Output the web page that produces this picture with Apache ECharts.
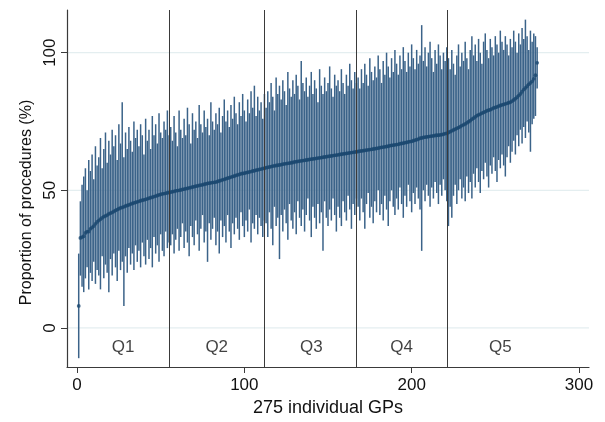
<!DOCTYPE html>
<html>
<head>
<meta charset="utf-8">
<script src="https://cdn.jsdelivr.net/npm/echarts@6/dist/echarts.min.js"></script>
<style>html,body{margin:0;padding:0;background:#fff}#c{width:605px;height:422px}</style>
</head>
<body>
<div id="c"></div>
<script>
// Point estimates (%) for 275 GPs, sorted ascending
const estimate = [
 8.0,32.7,33.0,33.3,34.5,35.0,35.0,36.0,36.5,37.0,37.8,38.5,39.0,39.5,40.0,40.4,40.7,41.0,41.4,41.7,
 42.0,42.3,42.7,43.0,43.3,43.6,43.8,44.0,44.3,44.5,44.7,45.0,45.2,45.4,45.6,45.8,46.0,46.2,46.4,46.5,
 46.7,46.9,47.1,47.3,47.5,47.7,47.9,48.1,48.3,48.5,48.7,48.8,48.9,49.1,49.2,
 49.3,49.5,49.6,49.8,49.9,50.0,50.1,50.3,50.4,50.6,50.7,50.9,51.0,51.2,51.3,
 51.5,51.6,51.8,51.9,52.0,52.2,52.3,52.5,52.6,52.7,52.8,52.9,53.0,53.2,53.4,53.6,53.8,54.0,54.2,54.4,
 54.6,54.8,55.0,55.2,55.4,55.6,55.8,56.0,56.1,56.2,56.4,56.5,56.7,56.8,57.0,57.1,57.3,57.4,57.6,57.7,
 57.9,58.0,
 58.2,58.3,58.5,58.6,58.8,58.9,59.0,59.1,59.2,59.3,59.5,59.6,59.7,59.8,59.9,60.0,60.1,60.3,
 60.4,60.5,60.6,60.7,60.8,60.9,61.0,61.1,61.2,61.3,61.4,61.5,61.6,61.7,61.8,61.9,62.0,62.1,62.2,62.3,
 62.4,62.5,62.6,62.7,62.8,62.9,63.0,63.1,63.2,63.3,63.4,63.5,63.6,63.7,63.8,63.9,64.0,
 64.1,64.2,64.3,64.4,64.5,64.6,64.7,64.8,64.9,65.0,65.1,65.2,65.3,65.5,65.6,65.7,65.8,65.9,66.0,66.2,
 66.3,66.4,66.5,66.6,66.7,66.9,67.0,67.1,67.3,67.4,67.6,67.7,67.8,68.0,68.2,68.4,68.6,68.9,69.0,69.2,
 69.3,69.4,69.5,69.6,69.7,69.8,69.9,70.0,70.0,70.1,70.2,70.4,70.6,70.7,
 71.0,71.3,71.6,71.9,72.2,72.5,72.8,73.1,73.5,73.8,74.1,74.5,74.9,75.3,75.8,76.2,76.7,77.1,77.4,
 77.7,78.0,78.3,78.6,78.9,79.1,79.3,79.6,79.9,80.1,80.3,80.6,80.8,81.0,81.2,81.4,81.6,81.8,82.0,82.4,
 82.8,83.3,83.8,84.4,85.0,85.8,86.6,87.2,87.8,88.5,89.0,89.6,90.5,91.8,96.3
];
// Upper confidence limits (%)
const upper = [
 27,46,52,55,58,50,61,57,63,54,66,59,62,69,58,65,71,60,68,63,72,66,70,61,74,67,82,62,71,65,
 73,68,64,75,69,72,66,74,70,63,76,68,72,65,77,70,74,67,78,71,69,75,72,79,70,
 73,68,77,71,66,79,72,69,76,70,80,74,67,78,72,75,69,81,74,71,79,73,76,70,82,
 75,72,78,74,80,71,77,83,75,79,73,81,76,84,78,74,82,77,85,79,75,83,78,86,80,88,77,84,79,82,76,85,
 80,86,82,89,84,79,91,85,88,83,90,86,81,93,87,84,90,85,92,88,83,97,89,86,91,84,88,93,
 85,90,87,82,94,88,85,91,86,89,95,87,84,92,88,90,86,94,89,85,92,88,96,90,87,93,89,
 91,87,94,89,96,92,88,98,93,90,95,91,99,94,89,97,92,100,95,91,98,93,101,
 96,92,99,94,102,97,93,100,95,103,98,94,101,96,99,110,97,102,95,100,104,98,93,101,96,103,99,94,100,97,102,
 98,94,101,96,92,99,103,95,100,97,104,98,94,101,106,99,103,97,105,100,96,104,107,101,98,105,102,99,106,
 103,100,108,104,101,106,103,99,105,102,108,104,100,107,103,109,105,112,106,101,108,104,107,106,102
];
// Lower confidence limits (%)
const lower = [
 -11,19,15,13,18,22,14,20,17,24,16,21,19,14,26,18,23,20,13,25,19,27,22,17,28,21,24,8,26,20,
 29,23,27,21,30,24,28,22,31,26,23,32,25,29,22,33,27,30,24,34,28,26,35,29,31,
 30,34,27,32,36,28,33,38,29,35,31,26,37,33,30,39,34,28,36,41,31,35,24,38,32,
 36,40,30,35,27,39,33,37,31,41,35,29,38,34,40,36,32,42,37,33,39,35,43,31,38,36,41,34,40,37,33,39,
 38,33,42,36,30,44,37,40,25,41,35,43,38,32,45,39,36,42,34,46,40,37,43,35,41,47,39,33,
 44,40,36,45,38,42,28,46,40,37,43,39,47,41,35,44,40,37,46,42,39,48,43,36,45,41,47,
 44,39,47,42,36,45,49,40,44,38,46,42,50,41,45,39,48,43,37,46,50,44,41,
 47,43,51,45,40,48,44,52,46,42,49,45,51,47,43,28,50,46,52,48,44,51,47,53,49,45,52,48,54,50,46,
 37,44,40,48,52,45,50,54,47,51,46,55,49,53,47,56,51,58,53,49,57,54,60,55,51,59,56,62,57,
 53,61,58,63,59,55,62,66,60,64,68,63,70,66,72,67,73,69,75,71,64,74,76,77,87
];
// Quintile boundaries and labels
const quintileCuts = [55, 112, 167, 221];
const quintileLabels = ['Q1', 'Q2', 'Q3', 'Q4', 'Q5'];
const quintileLabelX = [27.5, 83.5, 140, 194, 253];
const quintileLabelY = -7;
const xTicks = [0, 100, 200, 300];
const yTicks = [0, 50, 100];

const gpIndex = estimate.map((_, i) => i + 1);
const barData = gpIndex.map((g, i) => [g, lower[i], upper[i]]);
const pointData = gpIndex.map((g, i) => [g, estimate[i]]);
const qData = quintileLabels.map((q, i) => [quintileLabelX[i], quintileLabelY, q]);

const FONT = '"Liberation Sans", Arial, sans-serif';
const chart = echarts.init(document.getElementById('c'), null, {renderer: 'canvas'});
chart.setOption({
  animation: false,
  backgroundColor: '#ffffff',
  grid: {left: 67, right: 16, top: 10, bottom: 55, containLabel: false},
  xAxis: {
    type: 'value', min: -6, max: 306,
    name: '275 individual GPs', nameLocation: 'middle', nameGap: 32,
    nameTextStyle: {fontFamily: FONT, fontSize: 18, color: '#111'},
    axisLine: {show: true, onZero: false, lineStyle: {color: '#3a3a3a', width: 1.2}},
    axisTick: {show: true, length: 6, customValues: xTicks, lineStyle: {color: '#3a3a3a'}},
    axisLabel: {customValues: xTicks, margin: 10, fontFamily: FONT, fontSize: 17, color: '#111'},
    splitLine: {show: false}
  },
  yAxis: {
    type: 'value', min: -14.2, max: 115.5,
    name: 'Proportion of procedures (%)', nameLocation: 'middle', nameGap: 24,
    nameTextStyle: {fontFamily: FONT, fontSize: 16, color: '#111', padding: [0, 28, 0, 0]},
    axisLine: {show: true, onZero: false, lineStyle: {color: '#3a3a3a', width: 1.2}},
    axisTick: {show: true, length: 6, customValues: yTicks, lineStyle: {color: '#3a3a3a'}},
    axisLabel: {customValues: yTicks, rotate: 90, margin: 8, fontFamily: FONT, fontSize: 17, color: '#111'},
    splitLine: {show: false}
  },
  series: [
    {
      type: 'custom', z: 0, silent: true,
      data: yTicks.map(v => [v]),
      encode: {y: 0},
      renderItem: function (params, api) {
        const cs = params.coordSys;
        const y = api.coord([0, api.value(0)])[1];
        return {type: 'line', shape: {x1: cs.x, y1: y, x2: cs.x + cs.width, y2: y},
                style: {stroke: '#e4eef0', lineWidth: 1.2}};
      }
    },
    {
      type: 'custom', z: 2, silent: true,
      data: barData,
      renderItem: function (params, api) {
        const p1 = api.coord([api.value(0), api.value(1)]);
        const p2 = api.coord([api.value(0), api.value(2)]);
        return {type: 'line', shape: {x1: p1[0], y1: p1[1], x2: p2[0], y2: p2[1]},
                style: {stroke: '#3b6389', lineWidth: 1.5}};
      }
    },
    {
      type: 'scatter', z: 3, silent: true, data: pointData,
      symbol: 'circle', symbolSize: 3.8,
      itemStyle: {color: '#1a476f'}
    },
    {
      type: 'scatter', z: 4, silent: true, data: qData,
      symbolSize: 0,
      label: {show: true, position: 'inside', formatter: p => p.value[2],
              fontFamily: FONT, fontSize: 17, color: '#111'},
      markLine: {
        silent: true, symbol: 'none', label: {show: false},
        lineStyle: {color: '#3a3a3a', width: 1, type: 'solid'},
        data: quintileCuts.map(v => ({xAxis: v}))
      }
    }
  ]
});
</script>
</body>
</html>
